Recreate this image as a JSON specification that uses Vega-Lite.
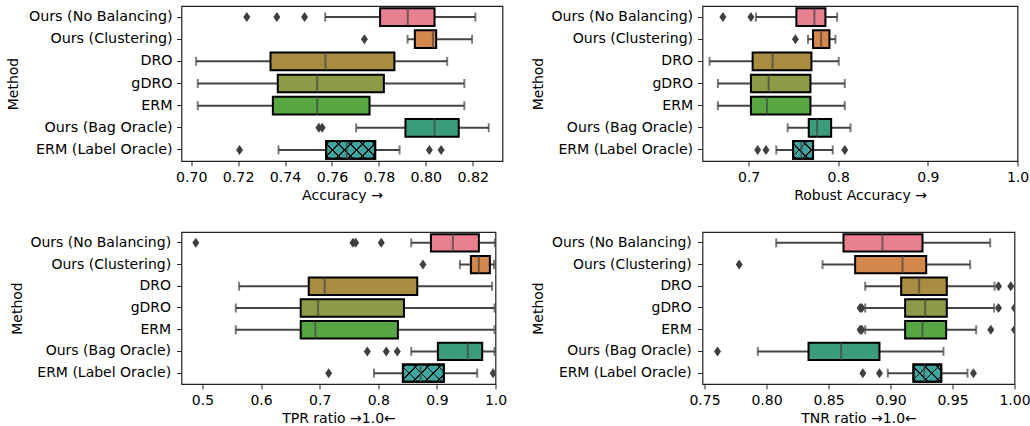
{
  "$schema": "https://vega.github.io/schema/vega-lite/v6.json",
  "padding": {"left": 5.5, "top": 5, "right": 0, "bottom": 0},
  "background": "white",
  "config": {
    "font": "DejaVu Sans",
    "view": {"stroke": "#222", "strokeWidth": 1.2},
    "axis": {"labelFont": "DejaVu Sans", "titleFont": "DejaVu Sans", "labelFontSize": 14, "titleFontSize": 14, "titleFontWeight": "normal", "labelColor": "#000", "titleColor": "#000", "tickColor": "#222", "tickSize": 4.9, "tickWidth": 1, "labelPadding": 4.5, "domain": false, "grid": false, "labelFlush": false, "labelOverlap": false},
    "axisX": {"titlePadding": 4},
    "axisY": {"titlePadding": 8}
  },
  "datasets": {
    "box": [
      {"metric": "acc", "method": "Ours (No Balancing)", "wl": 0.7571, "q1": 0.7805, "med": 0.7923, "q3": 0.8037, "wh": 0.8211},
      {"metric": "acc", "method": "Ours (Clustering)", "wl": 0.7922, "q1": 0.7953, "med": 0.8030, "q3": 0.8044, "wh": 0.8197},
      {"metric": "acc", "method": "DRO", "wl": 0.7021, "q1": 0.7338, "med": 0.7572, "q3": 0.7866, "wh": 0.8091},
      {"metric": "acc", "method": "gDRO", "wl": 0.7028, "q1": 0.7369, "med": 0.7537, "q3": 0.7821, "wh": 0.8164},
      {"metric": "acc", "method": "ERM", "wl": 0.7028, "q1": 0.7348, "med": 0.7537, "q3": 0.7760, "wh": 0.8164},
      {"metric": "acc", "method": "Ours (Bag Oracle)", "wl": 0.7703, "q1": 0.7913, "med": 0.8037, "q3": 0.8140, "wh": 0.8268},
      {"metric": "acc", "method": "ERM (Label Oracle)", "wl": 0.7372, "q1": 0.7575, "med": 0.7663, "q3": 0.7784, "wh": 0.7888},
      {"metric": "rob", "method": "Ours (No Balancing)", "wl": 0.7082, "q1": 0.7533, "med": 0.7734, "q3": 0.7857, "wh": 0.7988},
      {"metric": "rob", "method": "Ours (Clustering)", "wl": 0.7663, "q1": 0.7719, "med": 0.7809, "q3": 0.7902, "wh": 0.7969},
      {"metric": "rob", "method": "DRO", "wl": 0.6564, "q1": 0.7045, "med": 0.7268, "q3": 0.7701, "wh": 0.8006},
      {"metric": "rob", "method": "gDRO", "wl": 0.6657, "q1": 0.7026, "med": 0.7224, "q3": 0.7690, "wh": 0.8073},
      {"metric": "rob", "method": "ERM", "wl": 0.6657, "q1": 0.7026, "med": 0.7205, "q3": 0.7690, "wh": 0.8073},
      {"metric": "rob", "method": "Ours (Bag Oracle)", "wl": 0.7436, "q1": 0.7671, "med": 0.7764, "q3": 0.7921, "wh": 0.8137},
      {"metric": "rob", "method": "ERM (Label Oracle)", "wl": 0.7309, "q1": 0.7496, "med": 0.7589, "q3": 0.7719, "wh": 0.7939},
      {"metric": "tpr", "method": "Ours (No Balancing)", "wl": 0.8562, "q1": 0.8898, "med": 0.9273, "q3": 0.9716, "wh": 0.9990},
      {"metric": "tpr", "method": "Ours (Clustering)", "wl": 0.9392, "q1": 0.9580, "med": 0.9716, "q3": 0.9904, "wh": 0.9975},
      {"metric": "tpr", "method": "DRO", "wl": 0.5625, "q1": 0.6813, "med": 0.7085, "q3": 0.8665, "wh": 0.9943},
      {"metric": "tpr", "method": "gDRO", "wl": 0.5568, "q1": 0.6676, "med": 0.6972, "q3": 0.8438, "wh": 0.9983},
      {"metric": "tpr", "method": "ERM", "wl": 0.5568, "q1": 0.6676, "med": 0.6926, "q3": 0.8335, "wh": 0.9983},
      {"metric": "tpr", "method": "Ours (Bag Oracle)", "wl": 0.8562, "q1": 0.9017, "med": 0.9528, "q3": 0.9773, "wh": 0.9983},
      {"metric": "tpr", "method": "ERM (Label Oracle)", "wl": 0.7926, "q1": 0.8420, "med": 0.8722, "q3": 0.9119, "wh": 0.9688},
      {"metric": "tnr", "method": "Ours (No Balancing)", "wl": 0.8078, "q1": 0.8621, "med": 0.8935, "q3": 0.9258, "wh": 0.9804},
      {"metric": "tnr", "method": "Ours (Clustering)", "wl": 0.8452, "q1": 0.8715, "med": 0.9097, "q3": 0.9288, "wh": 0.9642},
      {"metric": "tnr", "method": "DRO", "wl": 0.8796, "q1": 0.9086, "med": 0.9231, "q3": 0.9454, "wh": 0.9839},
      {"metric": "tnr", "method": "gDRO", "wl": 0.8796, "q1": 0.9118, "med": 0.9280, "q3": 0.9454, "wh": 0.9836},
      {"metric": "tnr", "method": "ERM", "wl": 0.8796, "q1": 0.9118, "med": 0.9258, "q3": 0.9449, "wh": 0.9691},
      {"metric": "tnr", "method": "Ours (Bag Oracle)", "wl": 0.7930, "q1": 0.8339, "med": 0.8602, "q3": 0.8911, "wh": 0.9427},
      {"metric": "tnr", "method": "ERM (Label Oracle)", "wl": 0.8978, "q1": 0.9185, "med": 0.9272, "q3": 0.9409, "wh": 0.9621}
    ],
    "out": [
      {"metric": "acc", "method": "Ours (No Balancing)", "v": 0.7237},
      {"metric": "acc", "method": "Ours (No Balancing)", "v": 0.7365},
      {"metric": "acc", "method": "Ours (No Balancing)", "v": 0.7483},
      {"metric": "acc", "method": "Ours (Clustering)", "v": 0.7738},
      {"metric": "acc", "method": "Ours (Bag Oracle)", "v": 0.7544},
      {"metric": "acc", "method": "Ours (Bag Oracle)", "v": 0.7558},
      {"metric": "acc", "method": "ERM (Label Oracle)", "v": 0.7206},
      {"metric": "acc", "method": "ERM (Label Oracle)", "v": 0.8015},
      {"metric": "acc", "method": "ERM (Label Oracle)", "v": 0.8065},
      {"metric": "rob", "method": "Ours (No Balancing)", "v": 0.6713},
      {"metric": "rob", "method": "Ours (No Balancing)", "v": 0.7026},
      {"metric": "rob", "method": "Ours (Clustering)", "v": 0.7522},
      {"metric": "rob", "method": "ERM (Label Oracle)", "v": 0.7101},
      {"metric": "rob", "method": "ERM (Label Oracle)", "v": 0.7194},
      {"metric": "rob", "method": "ERM (Label Oracle)", "v": 0.8073},
      {"metric": "tpr", "method": "Ours (No Balancing)", "v": 0.4886},
      {"metric": "tpr", "method": "Ours (No Balancing)", "v": 0.7568},
      {"metric": "tpr", "method": "Ours (No Balancing)", "v": 0.7614},
      {"metric": "tpr", "method": "Ours (No Balancing)", "v": 0.8051},
      {"metric": "tpr", "method": "Ours (Clustering)", "v": 0.8762},
      {"metric": "tpr", "method": "Ours (Bag Oracle)", "v": 0.7813},
      {"metric": "tpr", "method": "Ours (Bag Oracle)", "v": 0.8136},
      {"metric": "tpr", "method": "Ours (Bag Oracle)", "v": 0.8324},
      {"metric": "tpr", "method": "ERM (Label Oracle)", "v": 0.7153},
      {"metric": "tpr", "method": "ERM (Label Oracle)", "v": 0.996},
      {"metric": "tnr", "method": "Ours (Clustering)", "v": 0.7780},
      {"metric": "tnr", "method": "DRO", "v": 0.9871},
      {"metric": "tnr", "method": "DRO", "v": 0.9970},
      {"metric": "tnr", "method": "gDRO", "v": 0.8755},
      {"metric": "tnr", "method": "gDRO", "v": 0.8769},
      {"metric": "tnr", "method": "gDRO", "v": 0.9871},
      {"metric": "tnr", "method": "gDRO", "v": 1.0},
      {"metric": "tnr", "method": "ERM", "v": 0.8755},
      {"metric": "tnr", "method": "ERM", "v": 0.8769},
      {"metric": "tnr", "method": "ERM", "v": 0.9809},
      {"metric": "tnr", "method": "ERM", "v": 1.0},
      {"metric": "tnr", "method": "Ours (Bag Oracle)", "v": 0.7605},
      {"metric": "tnr", "method": "ERM (Label Oracle)", "v": 0.8777},
      {"metric": "tnr", "method": "ERM (Label Oracle)", "v": 0.8911},
      {"metric": "tnr", "method": "ERM (Label Oracle)", "v": 0.9669}
    ]
  },
  "spacing": 27,
  "vconcat": [
    {
      "spacing": 27,
      "hconcat": [
        {
          "width": 321, "height": 155,
          "data": {"name": "box"},
          "transform": [{"filter": "datum.metric === 'acc'"}],
          "encoding": {"y": {"field": "method", "type": "nominal", "scale": {"domain": ["Ours (No Balancing)", "Ours (Clustering)", "DRO", "gDRO", "ERM", "Ours (Bag Oracle)", "ERM (Label Oracle)"], "paddingInner": 0.2, "paddingOuter": 0.1}, "axis": {"title": "Method", "titlePadding": 7.7, "labelFontSize": 14.3, "labelPadding": 4.5}}},
          "layer": [
            {"mark": {"type": "rule", "color": "#444", "strokeWidth": 2}, "encoding": {"x": {"field": "wl", "type": "quantitative", "scale": {"domain": [0.69587, 0.83266], "nice": false, "zero": false}, "axis": {"values": [0.70, 0.72, 0.74, 0.76, 0.78, 0.80, 0.82], "format": ".2f", "title": "Accuracy →", "labelFontSize": 14.2, "titleFontSize": 14.2}}, "x2": {"field": "wh"}}},
            {"mark": {"type": "tick", "color": "#444", "size": 9, "thickness": 2}, "encoding": {"x": {"field": "wl", "type": "quantitative"}}},
            {"mark": {"type": "tick", "color": "#444", "size": 9, "thickness": 2}, "encoding": {"x": {"field": "wh", "type": "quantitative"}}},
            {"mark": {"type": "bar", "stroke": "#000", "strokeWidth": 2}, "encoding": {"x": {"field": "q1", "type": "quantitative"}, "x2": {"field": "q3"}, "fill": {"field": "method", "type": "nominal", "scale": {"domain": ["Ours (No Balancing)", "Ours (Clustering)", "DRO", "gDRO", "ERM", "Ours (Bag Oracle)", "ERM (Label Oracle)"], "range": ["#e8808f", "#d4874b", "#a88c41", "#8d9a47", "#58a543", "#3b9c7b", "#3ea69e"]}, "legend": null}}},
            {"transform": [{"filter": "datum.method === 'ERM (Label Oracle)'"}], "mark": {"type": "bar", "strokeWidth": 0, "fill": {"gradient": "linear", "x1": 0, "y1": 0, "x2": 1.2041, "y2": 0.4350, "stops": [
              {"offset": 0, "color": "rgba(0,0,0,0)"}, {"offset": 0.0330, "color": "rgba(0,0,0,0)"}, {"offset": 0.0330, "color": "#111"}, {"offset": 0.0570, "color": "#111"}, {"offset": 0.0570, "color": "rgba(0,0,0,0)"},
              {"offset": 0.2129, "color": "rgba(0,0,0,0)"}, {"offset": 0.2129, "color": "#111"}, {"offset": 0.2369, "color": "#111"}, {"offset": 0.2369, "color": "rgba(0,0,0,0)"},
              {"offset": 0.3928, "color": "rgba(0,0,0,0)"}, {"offset": 0.3928, "color": "#111"}, {"offset": 0.4168, "color": "#111"}, {"offset": 0.4168, "color": "rgba(0,0,0,0)"},
              {"offset": 0.5727, "color": "rgba(0,0,0,0)"}, {"offset": 0.5727, "color": "#111"}, {"offset": 0.5967, "color": "#111"}, {"offset": 0.5967, "color": "rgba(0,0,0,0)"},
              {"offset": 0.7526, "color": "rgba(0,0,0,0)"}, {"offset": 0.7526, "color": "#111"}, {"offset": 0.7766, "color": "#111"}, {"offset": 0.7766, "color": "rgba(0,0,0,0)"},
              {"offset": 0.9325, "color": "rgba(0,0,0,0)"}, {"offset": 0.9325, "color": "#111"}, {"offset": 0.9565, "color": "#111"}, {"offset": 0.9565, "color": "rgba(0,0,0,0)"}, {"offset": 1, "color": "rgba(0,0,0,0)"}]}},
             "encoding": {"x": {"field": "q1", "type": "quantitative"}, "x2": {"field": "q3"}}},
            {"transform": [{"filter": "datum.method === 'ERM (Label Oracle)'"}], "mark": {"type": "bar", "stroke": "#000", "strokeWidth": 2, "fill": {"gradient": "linear", "x1": 0, "y1": 1, "x2": 1.2041, "y2": 0.5650, "stops": [
              {"offset": 0, "color": "rgba(0,0,0,0)"}, {"offset": 0.0330, "color": "rgba(0,0,0,0)"}, {"offset": 0.0330, "color": "#111"}, {"offset": 0.0570, "color": "#111"}, {"offset": 0.0570, "color": "rgba(0,0,0,0)"},
              {"offset": 0.2129, "color": "rgba(0,0,0,0)"}, {"offset": 0.2129, "color": "#111"}, {"offset": 0.2369, "color": "#111"}, {"offset": 0.2369, "color": "rgba(0,0,0,0)"},
              {"offset": 0.3928, "color": "rgba(0,0,0,0)"}, {"offset": 0.3928, "color": "#111"}, {"offset": 0.4168, "color": "#111"}, {"offset": 0.4168, "color": "rgba(0,0,0,0)"},
              {"offset": 0.5727, "color": "rgba(0,0,0,0)"}, {"offset": 0.5727, "color": "#111"}, {"offset": 0.5967, "color": "#111"}, {"offset": 0.5967, "color": "rgba(0,0,0,0)"},
              {"offset": 0.7526, "color": "rgba(0,0,0,0)"}, {"offset": 0.7526, "color": "#111"}, {"offset": 0.7766, "color": "#111"}, {"offset": 0.7766, "color": "rgba(0,0,0,0)"},
              {"offset": 0.9325, "color": "rgba(0,0,0,0)"}, {"offset": 0.9325, "color": "#111"}, {"offset": 0.9565, "color": "#111"}, {"offset": 0.9565, "color": "rgba(0,0,0,0)"}, {"offset": 1, "color": "rgba(0,0,0,0)"}]}},
             "encoding": {"x": {"field": "q1", "type": "quantitative"}, "x2": {"field": "q3"}}},
            {"mark": {"type": "tick", "color": "#444", "size": 17.7, "thickness": 2}, "encoding": {"x": {"field": "med", "type": "quantitative"}}},
            {"data": {"name": "out"}, "transform": [{"filter": "datum.metric === 'acc'"}], "mark": {"type": "point", "shape": "M0,-1L0.7,0L0,1L-0.7,0Z", "filled": true, "size": 100, "color": "#3f3f3f", "opacity": 1, "clip": true}, "encoding": {"x": {"field": "v", "type": "quantitative"}}}
          ]
        },
        {
          "width": 315, "height": 155,
          "data": {"name": "box"},
          "transform": [{"filter": "datum.metric === 'rob'"}],
          "encoding": {"y": {"field": "method", "type": "nominal", "scale": {"domain": ["Ours (No Balancing)", "Ours (Clustering)", "DRO", "gDRO", "ERM", "Ours (Bag Oracle)", "ERM (Label Oracle)"], "paddingInner": 0.2, "paddingOuter": 0.1}, "axis": {"title": "Method", "titlePadding": 5.5, "labelFontSize": 14.1, "labelPadding": 5}}},
          "layer": [
            {"mark": {"type": "rule", "color": "#444", "strokeWidth": 2}, "encoding": {"x": {"field": "wl", "type": "quantitative", "scale": {"domain": [0.64857, 1.0], "nice": false, "zero": false}, "axis": {"values": [0.7, 0.8, 0.9, 1.0], "format": ".1f", "title": "Robust Accuracy →"}}, "x2": {"field": "wh"}}},
            {"mark": {"type": "tick", "color": "#444", "size": 9, "thickness": 2}, "encoding": {"x": {"field": "wl", "type": "quantitative"}}},
            {"mark": {"type": "tick", "color": "#444", "size": 9, "thickness": 2}, "encoding": {"x": {"field": "wh", "type": "quantitative"}}},
            {"mark": {"type": "bar", "stroke": "#000", "strokeWidth": 2}, "encoding": {"x": {"field": "q1", "type": "quantitative"}, "x2": {"field": "q3"}, "fill": {"field": "method", "type": "nominal", "scale": {"domain": ["Ours (No Balancing)", "Ours (Clustering)", "DRO", "gDRO", "ERM", "Ours (Bag Oracle)", "ERM (Label Oracle)"], "range": ["#e8808f", "#d4874b", "#a88c41", "#8d9a47", "#58a543", "#3b9c7b", "#3ea69e"]}, "legend": null}}},
            {"transform": [{"filter": "datum.method === 'ERM (Label Oracle)'"}], "mark": {"type": "bar", "strokeWidth": 0, "fill": {"gradient": "linear", "x1": 0, "y1": 0, "x2": 1.0549, "y2": 0.9383, "stops": [
              {"offset": 0, "color": "rgba(0,0,0,0)"}, {"offset": 0.0585, "color": "rgba(0,0,0,0)"}, {"offset": 0.0585, "color": "#111"}, {"offset": 0.1011, "color": "#111"}, {"offset": 0.1011, "color": "rgba(0,0,0,0)"},
              {"offset": 0.3777, "color": "rgba(0,0,0,0)"}, {"offset": 0.3777, "color": "#111"}, {"offset": 0.4202, "color": "#111"}, {"offset": 0.4202, "color": "rgba(0,0,0,0)"},
              {"offset": 0.6968, "color": "rgba(0,0,0,0)"}, {"offset": 0.6968, "color": "#111"}, {"offset": 0.7394, "color": "#111"}, {"offset": 0.7394, "color": "rgba(0,0,0,0)"}, {"offset": 1, "color": "rgba(0,0,0,0)"}]}},
             "encoding": {"x": {"field": "q1", "type": "quantitative"}, "x2": {"field": "q3"}}},
            {"transform": [{"filter": "datum.method === 'ERM (Label Oracle)'"}], "mark": {"type": "bar", "stroke": "#000", "strokeWidth": 2, "fill": {"gradient": "linear", "x1": 0, "y1": 1, "x2": 1.0549, "y2": 0.0617, "stops": [
              {"offset": 0, "color": "rgba(0,0,0,0)"}, {"offset": 0.0585, "color": "rgba(0,0,0,0)"}, {"offset": 0.0585, "color": "#111"}, {"offset": 0.1011, "color": "#111"}, {"offset": 0.1011, "color": "rgba(0,0,0,0)"},
              {"offset": 0.3777, "color": "rgba(0,0,0,0)"}, {"offset": 0.3777, "color": "#111"}, {"offset": 0.4202, "color": "#111"}, {"offset": 0.4202, "color": "rgba(0,0,0,0)"},
              {"offset": 0.6968, "color": "rgba(0,0,0,0)"}, {"offset": 0.6968, "color": "#111"}, {"offset": 0.7394, "color": "#111"}, {"offset": 0.7394, "color": "rgba(0,0,0,0)"}, {"offset": 1, "color": "rgba(0,0,0,0)"}]}},
             "encoding": {"x": {"field": "q1", "type": "quantitative"}, "x2": {"field": "q3"}}},
            {"mark": {"type": "tick", "color": "#444", "size": 17.7, "thickness": 2}, "encoding": {"x": {"field": "med", "type": "quantitative"}}},
            {"data": {"name": "out"}, "transform": [{"filter": "datum.metric === 'rob'"}], "mark": {"type": "point", "shape": "M0,-1L0.7,0L0,1L-0.7,0Z", "filled": true, "size": 100, "color": "#3f3f3f", "opacity": 1, "clip": true}, "encoding": {"x": {"field": "v", "type": "quantitative"}}}
          ]
        }
      ]
    },
    {
      "spacing": 23,
      "hconcat": [
        {
          "width": 314, "height": 152,
          "data": {"name": "box"},
          "transform": [{"filter": "datum.metric === 'tpr'"}],
          "encoding": {"y": {"field": "method", "type": "nominal", "scale": {"domain": ["Ours (No Balancing)", "Ours (Clustering)", "DRO", "gDRO", "ERM", "Ours (Bag Oracle)", "ERM (Label Oracle)"], "paddingInner": 0.2, "paddingOuter": 0.1}, "axis": {"title": "Method", "titlePadding": 5.7, "labelFontSize": 14, "labelPadding": 6}}},
          "layer": [
            {"mark": {"type": "rule", "color": "#444", "strokeWidth": 2}, "encoding": {"x": {"field": "wl", "type": "quantitative", "scale": {"domain": [0.4642, 1.0], "nice": false, "zero": false}, "axis": {"values": [0.5, 0.6, 0.7, 0.8, 0.9, 1.0], "format": ".1f", "title": "TPR ratio →1.0←"}}, "x2": {"field": "wh"}}},
            {"mark": {"type": "tick", "color": "#444", "size": 9, "thickness": 2}, "encoding": {"x": {"field": "wl", "type": "quantitative"}}},
            {"mark": {"type": "tick", "color": "#444", "size": 9, "thickness": 2}, "encoding": {"x": {"field": "wh", "type": "quantitative"}}},
            {"mark": {"type": "bar", "stroke": "#000", "strokeWidth": 2}, "encoding": {"x": {"field": "q1", "type": "quantitative"}, "x2": {"field": "q3"}, "fill": {"field": "method", "type": "nominal", "scale": {"domain": ["Ours (No Balancing)", "Ours (Clustering)", "DRO", "gDRO", "ERM", "Ours (Bag Oracle)", "ERM (Label Oracle)"], "range": ["#e8808f", "#d4874b", "#a88c41", "#8d9a47", "#58a543", "#3b9c7b", "#3ea69e"]}, "legend": null}}},
            {"transform": [{"filter": "datum.method === 'ERM (Label Oracle)'"}], "mark": {"type": "bar", "strokeWidth": 0, "fill": {"gradient": "linear", "x1": 0, "y1": 0, "x2": 1.2070, "y2": 0.5114, "stops": [
              {"offset": 0, "color": "rgba(0,0,0,0)"}, {"offset": 0.0377, "color": "rgba(0,0,0,0)"}, {"offset": 0.0377, "color": "#111"}, {"offset": 0.0651, "color": "#111"}, {"offset": 0.0651, "color": "rgba(0,0,0,0)"},
              {"offset": 0.2433, "color": "rgba(0,0,0,0)"}, {"offset": 0.2433, "color": "#111"}, {"offset": 0.2707, "color": "#111"}, {"offset": 0.2707, "color": "rgba(0,0,0,0)"},
              {"offset": 0.4489, "color": "rgba(0,0,0,0)"}, {"offset": 0.4489, "color": "#111"}, {"offset": 0.4763, "color": "#111"}, {"offset": 0.4763, "color": "rgba(0,0,0,0)"},
              {"offset": 0.6545, "color": "rgba(0,0,0,0)"}, {"offset": 0.6545, "color": "#111"}, {"offset": 0.6819, "color": "#111"}, {"offset": 0.6819, "color": "rgba(0,0,0,0)"},
              {"offset": 0.8600, "color": "rgba(0,0,0,0)"}, {"offset": 0.8600, "color": "#111"}, {"offset": 0.8874, "color": "#111"}, {"offset": 0.8874, "color": "rgba(0,0,0,0)"}, {"offset": 1, "color": "rgba(0,0,0,0)"}]}},
             "encoding": {"x": {"field": "q1", "type": "quantitative"}, "x2": {"field": "q3"}}},
            {"transform": [{"filter": "datum.method === 'ERM (Label Oracle)'"}], "mark": {"type": "bar", "stroke": "#000", "strokeWidth": 2, "fill": {"gradient": "linear", "x1": 0, "y1": 1, "x2": 1.2070, "y2": 0.4886, "stops": [
              {"offset": 0, "color": "rgba(0,0,0,0)"}, {"offset": 0.0377, "color": "rgba(0,0,0,0)"}, {"offset": 0.0377, "color": "#111"}, {"offset": 0.0651, "color": "#111"}, {"offset": 0.0651, "color": "rgba(0,0,0,0)"},
              {"offset": 0.2433, "color": "rgba(0,0,0,0)"}, {"offset": 0.2433, "color": "#111"}, {"offset": 0.2707, "color": "#111"}, {"offset": 0.2707, "color": "rgba(0,0,0,0)"},
              {"offset": 0.4489, "color": "rgba(0,0,0,0)"}, {"offset": 0.4489, "color": "#111"}, {"offset": 0.4763, "color": "#111"}, {"offset": 0.4763, "color": "rgba(0,0,0,0)"},
              {"offset": 0.6545, "color": "rgba(0,0,0,0)"}, {"offset": 0.6545, "color": "#111"}, {"offset": 0.6819, "color": "#111"}, {"offset": 0.6819, "color": "rgba(0,0,0,0)"},
              {"offset": 0.8600, "color": "rgba(0,0,0,0)"}, {"offset": 0.8600, "color": "#111"}, {"offset": 0.8874, "color": "#111"}, {"offset": 0.8874, "color": "rgba(0,0,0,0)"}, {"offset": 1, "color": "rgba(0,0,0,0)"}]}},
             "encoding": {"x": {"field": "q1", "type": "quantitative"}, "x2": {"field": "q3"}}},
            {"mark": {"type": "tick", "color": "#444", "size": 17.4, "thickness": 2}, "encoding": {"x": {"field": "med", "type": "quantitative"}}},
            {"data": {"name": "out"}, "transform": [{"filter": "datum.metric === 'tpr'"}], "mark": {"type": "point", "shape": "M0,-1L0.7,0L0,1L-0.7,0Z", "filled": true, "size": 100, "color": "#3f3f3f", "opacity": 1, "clip": true}, "encoding": {"x": {"field": "v", "type": "quantitative"}}}
          ]
        },
        {
          "width": 312, "height": 152,
          "data": {"name": "box"},
          "transform": [{"filter": "datum.metric === 'tnr'"}],
          "encoding": {"y": {"field": "method", "type": "nominal", "scale": {"domain": ["Ours (No Balancing)", "Ours (Clustering)", "DRO", "gDRO", "ERM", "Ours (Bag Oracle)", "ERM (Label Oracle)"], "paddingInner": 0.2, "paddingOuter": 0.1}, "axis": {"title": "Method", "titlePadding": 5.7, "labelFontSize": 13.9, "labelPadding": 6.4}}},
          "layer": [
            {"mark": {"type": "rule", "color": "#444", "strokeWidth": 2}, "encoding": {"x": {"field": "wl", "type": "quantitative", "scale": {"domain": [0.7484, 1.0], "nice": false, "zero": false}, "axis": {"values": [0.75, 0.80, 0.85, 0.90, 0.95, 1.00], "format": ".2f", "title": "TNR ratio →1.0←"}}, "x2": {"field": "wh"}}},
            {"mark": {"type": "tick", "color": "#444", "size": 9, "thickness": 2}, "encoding": {"x": {"field": "wl", "type": "quantitative"}}},
            {"mark": {"type": "tick", "color": "#444", "size": 9, "thickness": 2}, "encoding": {"x": {"field": "wh", "type": "quantitative"}}},
            {"mark": {"type": "bar", "stroke": "#000", "strokeWidth": 2}, "encoding": {"x": {"field": "q1", "type": "quantitative"}, "x2": {"field": "q3"}, "fill": {"field": "method", "type": "nominal", "scale": {"domain": ["Ours (No Balancing)", "Ours (Clustering)", "DRO", "gDRO", "ERM", "Ours (Bag Oracle)", "ERM (Label Oracle)"], "range": ["#e8808f", "#d4874b", "#a88c41", "#8d9a47", "#58a543", "#3b9c7b", "#3ea69e"]}, "legend": null}}},
            {"transform": [{"filter": "datum.method === 'ERM (Label Oracle)'"}], "mark": {"type": "bar", "strokeWidth": 0, "fill": {"gradient": "linear", "x1": 0, "y1": 0, "x2": 1.1686, "y2": 0.7302, "stops": [
              {"offset": 0, "color": "rgba(0,0,0,0)"}, {"offset": 0.0487, "color": "rgba(0,0,0,0)"}, {"offset": 0.0487, "color": "#111"}, {"offset": 0.0841, "color": "#111"}, {"offset": 0.0841, "color": "rgba(0,0,0,0)"},
              {"offset": 0.3144, "color": "rgba(0,0,0,0)"}, {"offset": 0.3144, "color": "#111"}, {"offset": 0.3498, "color": "#111"}, {"offset": 0.3498, "color": "rgba(0,0,0,0)"},
              {"offset": 0.5800, "color": "rgba(0,0,0,0)"}, {"offset": 0.5800, "color": "#111"}, {"offset": 0.6155, "color": "#111"}, {"offset": 0.6155, "color": "rgba(0,0,0,0)"},
              {"offset": 0.8457, "color": "rgba(0,0,0,0)"}, {"offset": 0.8457, "color": "#111"}, {"offset": 0.8811, "color": "#111"}, {"offset": 0.8811, "color": "rgba(0,0,0,0)"}, {"offset": 1, "color": "rgba(0,0,0,0)"}]}},
             "encoding": {"x": {"field": "q1", "type": "quantitative"}, "x2": {"field": "q3"}}},
            {"transform": [{"filter": "datum.method === 'ERM (Label Oracle)'"}], "mark": {"type": "bar", "stroke": "#000", "strokeWidth": 2, "fill": {"gradient": "linear", "x1": 0, "y1": 1, "x2": 1.1686, "y2": 0.2698, "stops": [
              {"offset": 0, "color": "rgba(0,0,0,0)"}, {"offset": 0.0487, "color": "rgba(0,0,0,0)"}, {"offset": 0.0487, "color": "#111"}, {"offset": 0.0841, "color": "#111"}, {"offset": 0.0841, "color": "rgba(0,0,0,0)"},
              {"offset": 0.3144, "color": "rgba(0,0,0,0)"}, {"offset": 0.3144, "color": "#111"}, {"offset": 0.3498, "color": "#111"}, {"offset": 0.3498, "color": "rgba(0,0,0,0)"},
              {"offset": 0.5800, "color": "rgba(0,0,0,0)"}, {"offset": 0.5800, "color": "#111"}, {"offset": 0.6155, "color": "#111"}, {"offset": 0.6155, "color": "rgba(0,0,0,0)"},
              {"offset": 0.8457, "color": "rgba(0,0,0,0)"}, {"offset": 0.8457, "color": "#111"}, {"offset": 0.8811, "color": "#111"}, {"offset": 0.8811, "color": "rgba(0,0,0,0)"}, {"offset": 1, "color": "rgba(0,0,0,0)"}]}},
             "encoding": {"x": {"field": "q1", "type": "quantitative"}, "x2": {"field": "q3"}}},
            {"mark": {"type": "tick", "color": "#444", "size": 17.4, "thickness": 2}, "encoding": {"x": {"field": "med", "type": "quantitative"}}},
            {"data": {"name": "out"}, "transform": [{"filter": "datum.metric === 'tnr'"}], "mark": {"type": "point", "shape": "M0,-1L0.7,0L0,1L-0.7,0Z", "filled": true, "size": 100, "color": "#3f3f3f", "opacity": 1, "clip": true}, "encoding": {"x": {"field": "v", "type": "quantitative"}}}
          ]
        }
      ]
    }
  ]
}
